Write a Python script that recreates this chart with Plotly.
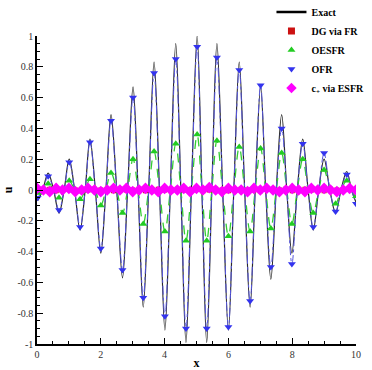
import numpy as np
import plotly.graph_objects as go

# ---- data ----
# extrema (peaks / troughs) of the exact solution
ext_x = [0.02, 0.35, 0.69, 1.01, 1.35, 1.66, 2.00, 2.32, 2.68, 3.01, 3.33, 3.67, 4.01, 4.35,
         4.67, 5.02, 5.32, 5.64, 6.00, 6.34, 6.68, 7.01, 7.33, 7.67, 7.99, 8.33, 8.66, 9.00,
         9.36, 9.71, 10.0]
exact_ext = [-0.07, 0.11, -0.15, 0.20, -0.26, 0.33, -0.41, 0.49, -0.57, 0.67, -0.76, 0.83,
             -0.91, 0.95, -0.99, 1.00, -0.99, 0.95, -0.91, 0.83, -0.76, 0.67, -0.58, 0.49,
             -0.41, 0.33, -0.26, 0.20, -0.15, 0.12, -0.08]
# zero crossings of the curves
zero_x = [0.18, 0.52, 0.85, 1.18, 1.51, 1.83, 2.16, 2.50, 2.84, 3.17, 3.50, 3.84, 4.18, 4.51,
          4.84, 5.17, 5.48, 5.82, 6.17, 6.51, 6.84, 7.17, 7.50, 7.83, 8.16, 8.50, 8.83, 9.18,
          9.53, 9.86]
# OFR extrema values
ofr_ext = [-0.05, 0.09, -0.13, 0.18, -0.24, 0.31, -0.38, 0.45, -0.52, 0.60, -0.70, 0.76,
           -0.82, 0.85, -0.90, 0.93, -0.90, 0.86, -0.89, 0.78, -0.72, 0.68, -0.50, 0.40,
           -0.48, 0.30, -0.24, 0.24, -0.14, 0.10, -0.09]
# OESFR extrema values
oesfr_ext = [-0.02, 0.04, -0.05, 0.06, -0.06, 0.07, -0.10, 0.11, -0.15, 0.20, -0.22, 0.25,
             -0.27, 0.30, -0.33, 0.36, -0.33, 0.32, -0.30, 0.28, -0.27, 0.27, -0.25, 0.24,
             -0.22, 0.20, -0.15, 0.13, -0.09, 0.06, -0.04]
# near-zero solutions sampled along x
base_x = [0.0, 0.2, 0.4, 0.6, 0.8, 1.0, 1.2, 1.4, 1.6, 1.8, 2.0, 2.2, 2.4, 2.6, 2.8, 3.0, 3.2,
          3.4, 3.6, 3.8, 4.0, 4.2, 4.4, 4.6, 4.8, 5.0, 5.2, 5.4, 5.6, 5.8, 6.0, 6.2, 6.4, 6.6,
          6.8, 7.0, 7.2, 7.4, 7.6, 7.8, 8.0, 8.2, 8.4, 8.6, 8.8, 9.0, 9.2, 9.4, 9.6, 9.8, 10.0]
dg_fr = [0.0, 0.0, 0.005, -0.005, 0.0, 0.005, 0.0, -0.005, 0.0, 0.005, 0.0, 0.0, -0.005,
         0.005, 0.0, 0.0, 0.005, -0.005, 0.0, 0.005, 0.0, -0.005, 0.005, 0.0, 0.0, 0.005,
         -0.005, 0.0, 0.005, 0.0, -0.005, 0.0, 0.005, 0.0, 0.0, -0.005, 0.005, 0.0, 0.0,
         0.005, -0.005, 0.0, 0.005, 0.0, 0.0, -0.005, 0.005, 0.0, 0.0, 0.005, 0.0]
cplus_esfr = [0.01, 0.0, -0.01, 0.01, 0.0, 0.01, -0.01, 0.0, 0.01, 0.0, -0.01, 0.0, 0.01,
              0.0, 0.01, -0.01, 0.0, 0.01, 0.0, -0.01, 0.01, 0.0, 0.0, 0.01, -0.01, 0.01,
              0.0, 0.015, 0.0, -0.01, 0.01, 0.0, 0.0, -0.01, 0.01, 0.0, 0.01, 0.0, -0.01,
              0.0, 0.01, 0.0, -0.01, 0.01, 0.0, 0.01, 0.0, -0.01, 0.0, 0.01, 0.0]

x_ticks = [0, 2, 4, 6, 8, 10]
y_ticks = [-1, -0.8, -0.6, -0.4, -0.2, 0, 0.2, 0.4, 0.6, 0.8, 1]
y_ticktext = ["-1", "-0.8", "-0.6", "-0.4", "-0.2", "0", "0.2", "0.4", "0.6", "0.8", "1"]


def merged(ext_vals):
    pts = sorted(list(zip(ext_x, ext_vals)) + [(z, 0.0) for z in zero_x])
    return [p[0] for p in pts], [p[1] for p in pts]


ex_x, ex_y = merged(exact_ext)
of_x, of_y = merged(ofr_ext)
oe_x, oe_y = merged(oesfr_ext)

SERIF = "Liberation Serif"
fig = go.Figure()

# exact curve
fig.add_trace(go.Scatter(x=ex_x, y=ex_y, mode="lines", line_shape="spline",
                         line=dict(color="#2a2a2a", width=1.2),
                         showlegend=False, hoverinfo="skip"))
fig.add_trace(go.Scatter(x=[None], y=[None], mode="lines", name="<b>Exact</b>",
                         line=dict(color="black", width=2.5)))

# OESFR line
fig.add_trace(go.Scatter(x=oe_x, y=oe_y, mode="lines", line_shape="spline",
                         line=dict(color="#33cc33", width=1.3, dash="dash"),
                         showlegend=False, hoverinfo="skip"))
# OFR line
fig.add_trace(go.Scatter(x=of_x, y=of_y, mode="lines", line_shape="spline",
                         line=dict(color="#5555dd", width=1.0, dash="dashdot"),
                         showlegend=False, hoverinfo="skip"))

# DG via FR
fig.add_trace(go.Scatter(x=base_x, y=dg_fr, mode="lines+markers",
                         line=dict(color="#ee1111", width=1.5),
                         marker=dict(symbol="square", size=5, color="#cc1111"),
                         showlegend=False))
fig.add_trace(go.Scatter(x=[None], y=[None], mode="markers", name="<b>DG via FR</b>",
                         marker=dict(symbol="square", size=7, color="#cc1111")))
fig.add_trace(go.Scatter(x=ext_x, y=oesfr_ext, mode="markers", name="<b>OESFR</b>",
                         marker=dict(symbol="triangle-up", size=7, color="#22cc22")))
fig.add_trace(go.Scatter(x=ext_x, y=ofr_ext, mode="markers", name="<b>OFR</b>",
                         marker=dict(symbol="triangle-down", size=7, color="#3333ee")))
fig.add_trace(go.Scatter(x=base_x, y=cplus_esfr, mode="lines+markers",
                         line=dict(color="#ff00ff", width=3),
                         marker=dict(symbol="diamond", size=9, color="#ff00ff"),
                         showlegend=False))
fig.add_trace(go.Scatter(x=[None], y=[None], mode="markers",
                         name="<b>c<sub>+</sub> via ESFR</b>",
                         marker=dict(symbol="diamond", size=8, color="#ff00ff")))

axis_common = dict(showline=True, linecolor="black", linewidth=1.5, showgrid=False,
                   zeroline=False, ticks="inside", ticklen=6, tickcolor="black",
                   tickfont=dict(family=SERIF, size=10, color="#333333"))

fig.update_xaxes(range=[0, 10], tickvals=x_ticks, ticktext=[str(v) for v in x_ticks],
                 minor=dict(dtick=0.5, ticks="inside", ticklen=3, tickcolor="black"),
                 title=dict(text="<b>x</b>", font=dict(family=SERIF, size=12, color="black"),
                            standoff=2),
                 **axis_common)
fig.update_yaxes(range=[-1, 1], tickvals=y_ticks, ticktext=y_ticktext,
                 minor=dict(dtick=0.05, ticks="inside", ticklen=3, tickcolor="black"),
                 title=dict(text="<b>u</b>", font=dict(family=SERIF, size=12, color="black"),
                            standoff=2),
                 **axis_common)

fig.update_layout(
    width=372, height=370,
    margin=dict(l=37, r=16, t=36, b=26, autoexpand=False),
    paper_bgcolor="white", plot_bgcolor="white",
    legend=dict(x=0.735, y=1.125, xanchor="left", yanchor="top",
                bgcolor="rgba(0,0,0,0)",
                font=dict(family=SERIF, size=10, color="black"),
                itemwidth=30, tracegroupgap=0),
)

fig.write_html("out.html")
